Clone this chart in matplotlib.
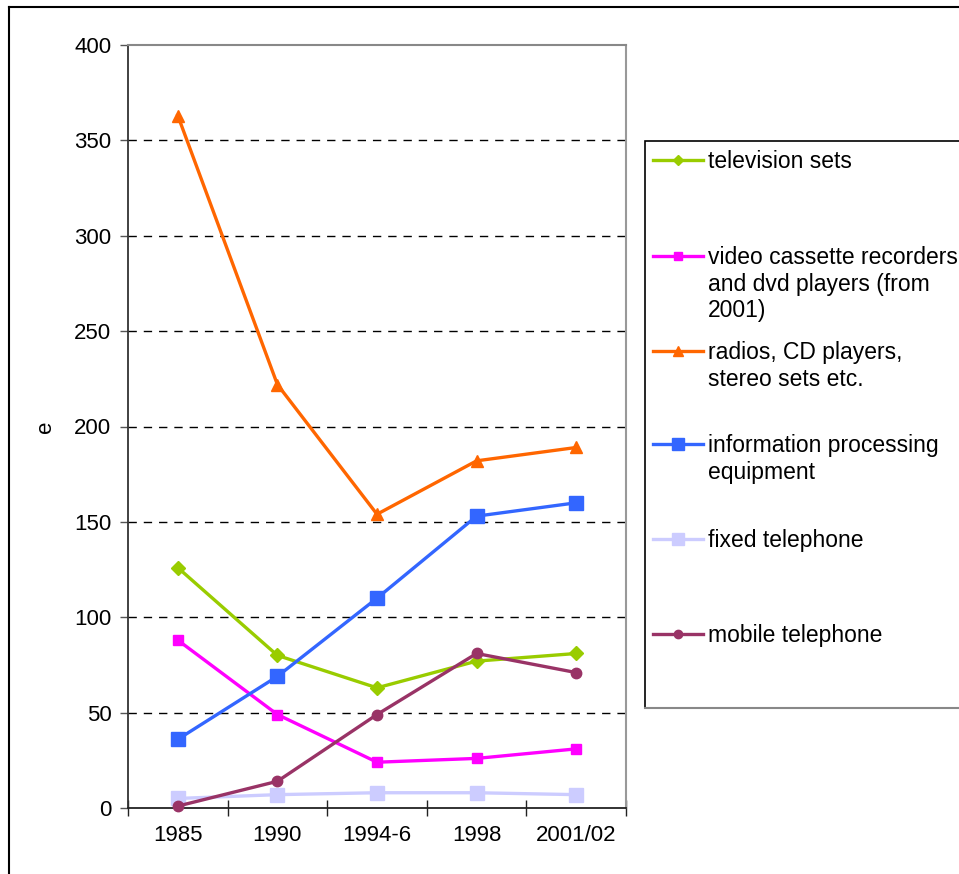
import matplotlib
matplotlib.use("Agg")
import matplotlib.pyplot as plt
from matplotlib.lines import Line2D
from matplotlib.patches import Rectangle

plt.rcParams['font.family'] = ['Liberation Sans', 'DejaVu Sans']

periods = ["1985", "1990", "1994-6", "1998", "2001/02"]

tv = [126, 80, 63, 77, 81]
vcr = [88, 49, 24, 26, 31]
radios = [363, 222, 154, 182, 189]
info = [36, 69, 110, 153, 160]
fixed = [5, 7, 8, 8, 7]
mobile = [1, 14, 49, 81, 71]

labels = ["television sets",
          "video cassette recorders\nand dvd players (from\n2001)",
          "radios, CD players,\nstereo sets etc.",
          "information processing\nequipment",
          "fixed telephone",
          "mobile telephone"]

# colour, marker, marker size per series
styles = [("#99CC00", "D", 7),
          ("#FF00FF", "s", 7.5),
          ("#FF6600", "^", 9),
          ("#3366FF", "s", 10),
          ("#CCCCFF", "s", 10),
          ("#993366", "o", 7.5)]

series = [tv, vcr, radios, info, fixed, mobile]

W, H = 959, 874
fig = plt.figure(figsize=(W / 100, H / 100), dpi=100)
ax = fig.add_axes([128 / W, 1 - 808 / H, 498 / W, 763 / H])

x = list(range(len(periods)))
# draw order: fixed first so others sit on top
order = [4, 0, 1, 2, 3, 5]
for i in order:
    c, m, ms = styles[i]
    ax.plot(x, series[i], color=c, marker=m, markersize=ms, lw=2.4,
            markeredgecolor=c, zorder=3 + i * 0.1, clip_on=False)

ax.set_xlim(-0.5, 4.5)
ax.set_ylim(0, 400)
ax.set_yticks(range(0, 401, 50))
ax.set_xticks(x)
ax.set_xticklabels(periods)
ax.set_xticks([v - 0.5 for v in range(6)], minor=True)
ax.tick_params(axis='x', which='major', length=0, pad=12, labelsize=16)
ax.tick_params(axis='x', which='minor', direction='inout', length=12,
               width=1, color='#222222')
ax.tick_params(axis='y', direction='out', length=6, width=1,
               color='#555555', pad=6, labelsize=16)

for yv in range(50, 400, 50):
    ax.axhline(yv, color='black', lw=1, ls=(0, (6, 5)), zorder=1)

ax.spines['left'].set_color('#333333')
ax.spines['left'].set_linewidth(1.3)
ax.spines['bottom'].set_color('#222222')
ax.spines['bottom'].set_linewidth(1.3)
ax.spines['top'].set_color('#888888')
ax.spines['top'].set_linewidth(1.5)
ax.spines['right'].set_color('#999999')
ax.spines['right'].set_linewidth(1.5)

fig.text(45 / W, 1 - 427 / H, "e", rotation=90, fontsize=16,
         ha='center', va='center')

# outer chart frame
fig.add_artist(Line2D([9 / W, 1], [1 - 7 / H, 1 - 7 / H], color='black',
                      lw=1.5, transform=fig.transFigure))
fig.add_artist(Line2D([9 / W, 9 / W], [1 - 7 / H, 0], color='black',
                      lw=1.5, transform=fig.transFigure))

# legend box
fig.add_artist(Rectangle((645 / W, 1 - 708 / H), (W + 10 - 645) / W,
                         (708 - 141) / H, transform=fig.transFigure,
                         facecolor='white', edgecolor='black', lw=1.2))
fig.add_artist(Line2D([645 / W, 1], [1 - 708 / H, 1 - 708 / H],
                      color='#888888', lw=1.5, transform=fig.transFigure))

entry_y = [160, 256, 351, 444, 539, 634]
for i, yy in enumerate(entry_y):
    c, m, ms = styles[i]
    yf = 1 - yy / H
    fig.add_artist(Line2D([653 / W, 703 / W], [yf, yf], color=c, lw=2.4,
                          transform=fig.transFigure))
    fig.add_artist(Line2D([678 / W], [yf], color=c, marker=m,
                          markersize=ms * 0.8, markeredgecolor=c,
                          transform=fig.transFigure))
    fig.text(708 / W, 1 - (yy - 10) / H, labels[i], fontsize=16.5,
             ha='left', va='top', linespacing=1.2)

fig.savefig("out.png", dpi=100)
